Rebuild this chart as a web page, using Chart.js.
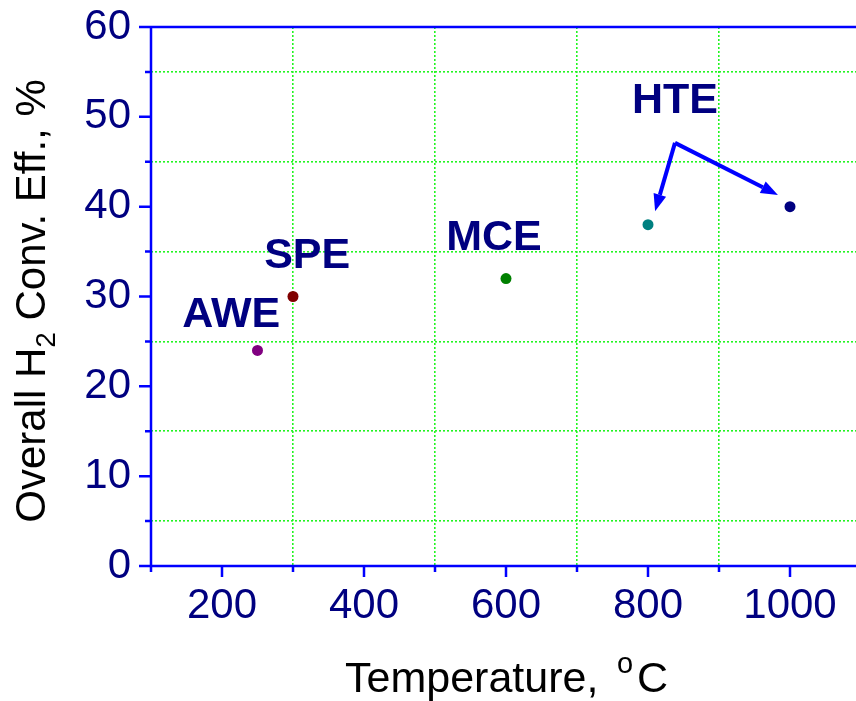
<!DOCTYPE html>
<html>
<head>
<meta charset="utf-8">
<script src="https://cdn.jsdelivr.net/npm/chart.js@4"></script>
<style>
  html, body { margin: 0; padding: 0; background: #fff; overflow: hidden; }
</style>
</head>
<body>
<canvas id="chart" width="870" height="701"></canvas>
<script>
// Datos del gráfico
const processes = ["AWE", "SPE", "MCE", "HTE", "HTE"];
const temperatures = [250, 300, 600, 800, 1000];
const efficiencies = [24, 30, 32, 38, 40];
const pointColors = ["#800080", "#800000", "#008000", "#008080", "#000080"];
const xTickLabels = [200, 400, 600, 800, 1000];
const yTickLabels = [0, 10, 20, 30, 40, 50, 60];

const AXIS_BLUE = "#0000ff";
const NAVY = "#000080";
const GRID_GREEN = "#22f522";
const FONT = "'Liberation Sans', Arial, sans-serif";

// Posiciones de las etiquetas (en unidades de datos)
const annotations = [
    { text: "AWE", x: 213, y: 27.9 },
    { text: "SPE", x: 320, y: 34.5 },
    { text: "MCE", x: 583, y: 36.5 },
    { text: "HTE", x: 838, y: 51.8 }
];
const arrowFrom = { x: 838, y: 47.1 };
const arrowTips = [{ x: 810, y: 39.5 }, { x: 983, y: 41.3 }];

function drawArrow(ctx, x1, y1, x2, y2) {
    const ang = Math.atan2(y2 - y1, x2 - x1);
    const len = 17, half = 6.5;
    const bx = x2 - len * Math.cos(ang), by = y2 - len * Math.sin(ang);
    ctx.beginPath();
    ctx.moveTo(x1, y1);
    ctx.lineTo(bx, by);
    ctx.stroke();
    ctx.beginPath();
    ctx.moveTo(x2, y2);
    ctx.lineTo(bx + half * Math.sin(ang), by - half * Math.cos(ang));
    ctx.lineTo(bx - half * Math.sin(ang), by + half * Math.cos(ang));
    ctx.closePath();
    ctx.fill();
}

const decorPlugin = {
    id: "decor",
    afterDraw(chart) {
        const { ctx, chartArea: a, scales: { x, y } } = chart;
        ctx.save();

        // Ejes y marcas
        ctx.strokeStyle = AXIS_BLUE;
        ctx.lineWidth = 2.5;
        ctx.beginPath();
        ctx.moveTo(a.left, a.top); ctx.lineTo(a.left, a.bottom);
        ctx.moveTo(a.left, a.bottom); ctx.lineTo(a.right, a.bottom);
        ctx.moveTo(a.left, a.top); ctx.lineTo(a.right, a.top);
        for (let v = 0; v <= 60; v += 5) {
            const py = y.getPixelForValue(v);
            const l = v % 10 === 0 ? 12 : 6;
            ctx.moveTo(a.left - l, py); ctx.lineTo(a.left, py);
        }
        for (let v = 100; v <= 1100; v += 100) {
            const px = x.getPixelForValue(v);
            const l = v % 200 === 0 ? 11 : 6;
            ctx.moveTo(px, a.bottom); ctx.lineTo(px, a.bottom + l);
        }
        ctx.stroke();

        // Título eje X
        ctx.fillStyle = "#000";
        ctx.textBaseline = "alphabetic";
        ctx.textAlign = "left";
        const big = "42px " + FONT;
        const by = 692;
        ctx.font = "43px " + FONT; ctx.fillText("Temperature,", 345, by);
        ctx.font = "29px " + FONT; ctx.fillText("o", 617, by - 19);
        ctx.font = "43px " + FONT; ctx.fillText("C", 637, by);

        // Título eje Y
        ctx.save();
        ctx.translate(45, 301);
        ctx.rotate(-Math.PI / 2);
        ctx.font = big;
        const y1 = "Overall H", y3 = " Conv. Eff., %";
        const wy1 = ctx.measureText(y1).width, wy3 = ctx.measureText(y3).width;
        ctx.font = "28px " + FONT;
        const wy2 = ctx.measureText("2").width;
        const sy = -(wy1 + wy2 + wy3) / 2;
        ctx.font = big; ctx.fillText(y1, sy, 0);
        ctx.font = "28px " + FONT; ctx.fillText("2", sy + wy1, 10);
        ctx.font = big; ctx.fillText(y3, sy + wy1 + wy2, 0);
        ctx.restore();

        // Etiquetas de procesos
        ctx.fillStyle = NAVY;
        ctx.font = "bold 43px " + FONT;
        ctx.textAlign = "center";
        ctx.textBaseline = "middle";
        annotations.forEach(an => {
            ctx.fillText(an.text, x.getPixelForValue(an.x), y.getPixelForValue(an.y));
        });

        // Flechas HTE
        ctx.strokeStyle = AXIS_BLUE;
        ctx.fillStyle = AXIS_BLUE;
        ctx.lineWidth = 4;
        const fx = x.getPixelForValue(arrowFrom.x), fy = y.getPixelForValue(arrowFrom.y);
        arrowTips.forEach(t => {
            drawArrow(ctx, fx, fy, x.getPixelForValue(t.x), y.getPixelForValue(t.y));
        });

        ctx.restore();
    }
};

new Chart(document.getElementById("chart"), {
    type: "scatter",
    data: {
        datasets: [{
            label: "Eficiencia",
            data: temperatures.map((t, i) => ({ x: t, y: efficiencies[i] })),
            pointBackgroundColor: pointColors,
            pointBorderWidth: 0,
            pointRadius: 5.5
        }]
    },
    options: {
        responsive: false,
        animation: false,
        layout: { autoPadding: false, padding: { top: 27, right: 9, left: 0, bottom: 0 } },
        plugins: { legend: { display: false }, tooltip: { enabled: false } },
        scales: {
            x: {
                type: "linear",
                min: 100,
                max: 1100,
                afterFit: s => { s.height = 135; s.paddingLeft = 0; s.paddingRight = 0; },
                ticks: {
                    stepSize: 100,
                    autoSkip: false,
                    maxRotation: 0,
                    padding: 15,
                    color: NAVY,
                    font: { size: 42, family: FONT },
                    callback: v => xTickLabels.includes(v) ? String(v) : ""
                },
                grid: {
                    drawTicks: false,
                    lineWidth: 1.6,
                    color: c => (c.tick && c.tick.value % 200 === 100 && c.tick.value > 100 && c.tick.value < 1100) ? GRID_GREEN : "rgba(0,0,0,0)"
                },
                border: { display: false, dash: [2, 2] }
            },
            y: {
                min: 0,
                max: 60,
                afterFit: s => { s.width = 151; s.paddingTop = 0; s.paddingBottom = 0; },
                ticks: {
                    stepSize: 5,
                    autoSkip: false,
                    padding: 20,
                    color: NAVY,
                    font: { size: 42, family: FONT },
                    callback: v => yTickLabels.includes(v) ? String(v) : ""
                },
                grid: {
                    drawTicks: false,
                    lineWidth: 1.6,
                    color: c => (c.tick && c.tick.value % 10 === 5) ? GRID_GREEN : "rgba(0,0,0,0)"
                },
                border: { display: false, dash: [2, 2] }
            }
        }
    },
    plugins: [decorPlugin]
});
</script>
</body>
</html>
